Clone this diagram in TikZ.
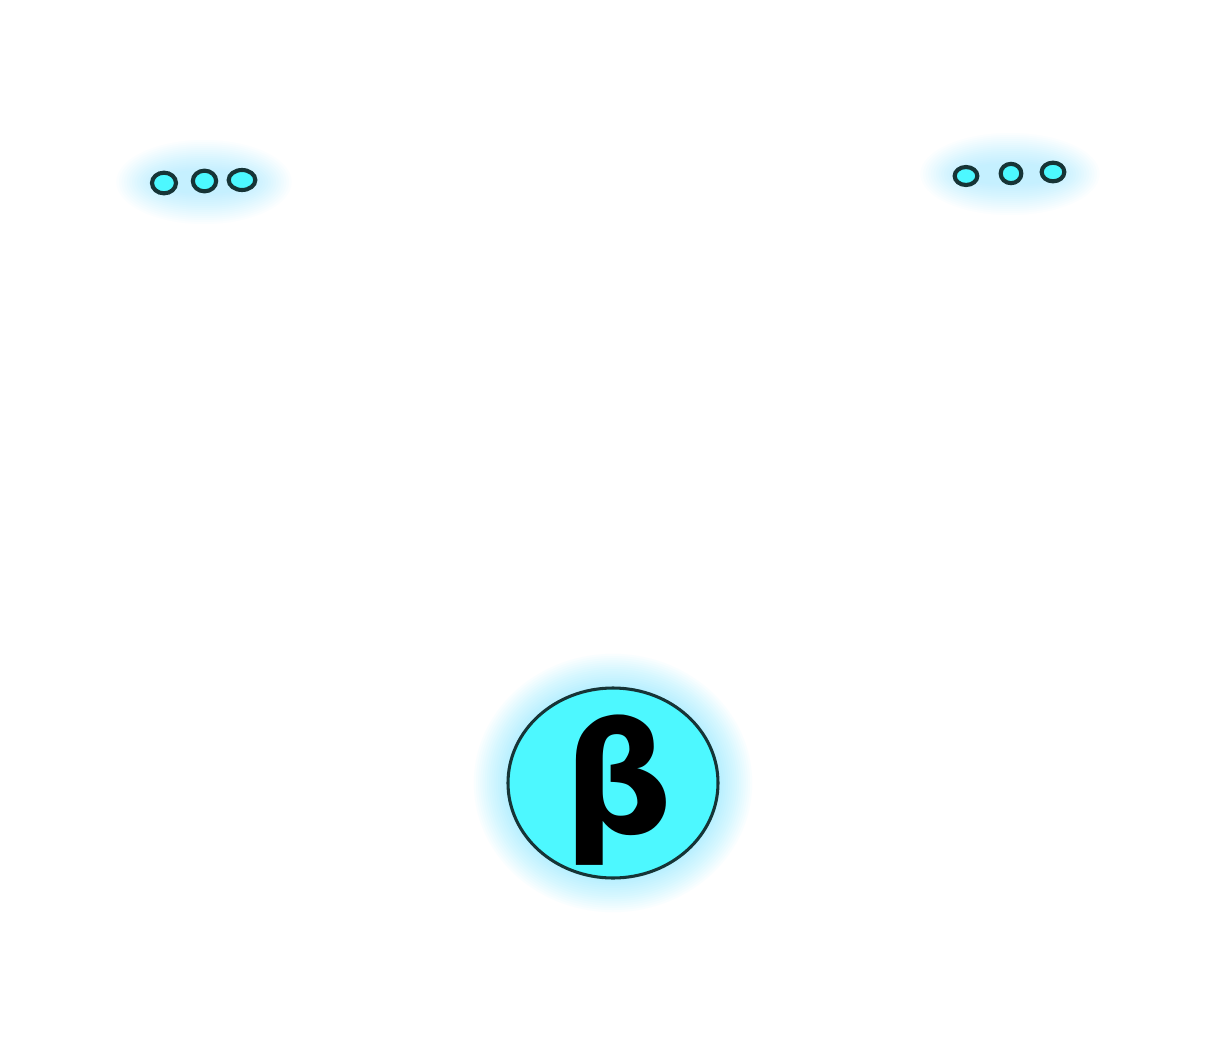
\documentclass[tikz,border=0pt]{standalone}
\usepackage{fontspec}
\newfontfamily\betafont{DejaVu Sans}
\usetikzlibrary{shapes.geometric}
\definecolor{bcyan}{RGB}{77,248,255}
\definecolor{bline}{RGB}{22,52,54}
\definecolor{glowc}{RGB}{90,240,255}
\tikzset{
  dot/.style={ellipse, draw=bline, line width=3.1pt, fill=bcyan, inner sep=0pt},
  bigdot/.style={ellipse, draw=bline, line width=2.3pt, fill=bcyan, inner sep=0pt, minimum width=157.5pt, minimum height=142.5pt},
  glowlayer/.style={fill=glowc, fill opacity=0.03, draw=none},
  softglow/.style={fill=glowc, fill opacity=0.022, draw=none}
}
\begin{document}
\begin{tikzpicture}[x=0.75pt,y=-0.75pt]
\useasboundingbox[fill=white] (0,0) rectangle (1207,1042);
% glows
\foreach \i in {1,...,16}{
  \fill[glowlayer] (613,783) ellipse ({104+\i*2.2} and {94+\i*2.2});
  \fill[softglow] (204,182) ellipse ({46+\i*2.6} and {10+\i*2});
  \fill[softglow] (1010,174) ellipse ({48+\i*2.6} and {9+\i*2});
}
% left dots
\node[dot, minimum width=18pt, minimum height=15.5pt] (l1) at (164,183) {};
\node[dot, minimum width=17.5pt, minimum height=15.5pt] (l2) at (204.5,181) {};
\node[dot, minimum width=20pt, minimum height=15pt] (l3) at (242,180) {};
% right dots
\node[dot, minimum width=17pt, minimum height=13.5pt] (r1) at (966,176) {};
\node[dot, minimum width=15.5pt, minimum height=14.5pt] (r2) at (1011,173.5) {};
\node[dot, minimum width=17pt, minimum height=14pt] (r3) at (1053,172) {};
% big circle
\node[bigdot] (beta) at (613,783) {};
\node[inner sep=0pt, anchor=center] (betalabel) at (618,790)
  {\betafont\bfseries\fontsize{115}{115}\selectfont β};
\end{tikzpicture}
\end{document}
